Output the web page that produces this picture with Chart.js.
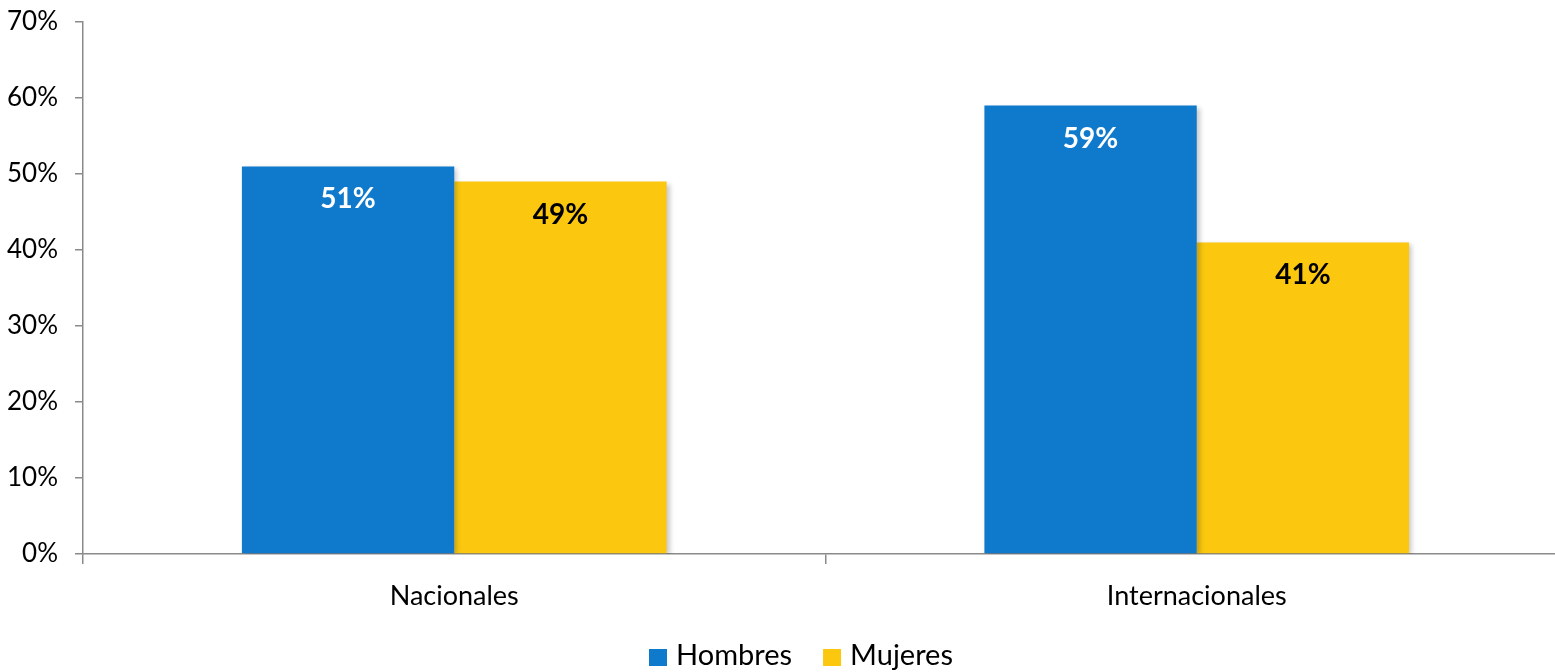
<!DOCTYPE html>
<html>
<head>
<meta charset="utf-8">
<script src="https://cdn.jsdelivr.net/npm/chart.js@4/dist/chart.umd.min.js"></script>
<style>
  html, body { margin: 0; padding: 0; background: #fff; overflow: hidden; }
  #wrap { width: 1555px; height: 672px; overflow: hidden; }
</style>
</head>
<body>
<div id="wrap"><canvas id="chart" width="1570" height="672"></canvas></div>
<script>
// ----------------------------
// Daten
// ----------------------------
const categories = ['Nacionales', 'Internacionales'];
const hombres = [51, 59];
const mujeres = [49, 41];
const yTicks = [0, 10, 20, 30, 40, 50, 60, 70];

const AXIS = '#8a8a8a';
const FONT = 'Lato, "Open Sans", sans-serif';

// Schatten hinter den Balken
const shadowPlugin = {
  id: 'barShadow',
  beforeDatasetsDraw(chart) {
    const ctx = chart.ctx;
    ctx.save();
    ctx.shadowColor = 'rgba(0,0,0,0.22)';
    ctx.shadowBlur = 5;
    ctx.shadowOffsetX = 3;
    ctx.shadowOffsetY = 2;
  },
  afterDatasetsDraw(chart) {
    chart.ctx.restore();
  }
};

// Werte in den Balken
const labelPlugin = {
  id: 'barLabels',
  afterDatasetsDraw(chart) {
    const ctx = chart.ctx;
    ctx.save();
    ctx.font = 'bold 28px ' + FONT;
    ctx.textAlign = 'center';
    ctx.textBaseline = 'middle';
    chart.data.datasets.forEach((ds, i) => {
      const meta = chart.getDatasetMeta(i);
      meta.data.forEach((bar, j) => {
        ctx.fillStyle = ds.labelColor;
        ctx.fillText(ds.data[j] + '%', bar.x, bar.y + 33);
      });
    });
    ctx.restore();
  }
};

// Legende unten (eigene Zeichnung)
const legendPlugin = {
  id: 'bottomLegend',
  afterDraw(chart) {
    const ctx = chart.ctx;
    ctx.save();
    ctx.font = '29px ' + FONT;
    ctx.textBaseline = 'middle';
    ctx.textAlign = 'left';
    let x = 649;
    const y = 656;
    chart.data.datasets.forEach(ds => {
      ctx.fillStyle = ds.backgroundColor;
      ctx.fillRect(x, y - 7, 18, 17);
      ctx.fillStyle = '#000';
      ctx.fillText(ds.label, x + 27, y);
      x += 27 + ctx.measureText(ds.label).width + 31;
    });
    ctx.restore();
  }
};

new Chart(document.getElementById('chart'), {
  type: 'bar',
  data: {
    labels: categories,
    datasets: [
      { label: 'Hombres', data: hombres, backgroundColor: '#0f79cc', labelColor: '#ffffff' },
      { label: 'Mujeres', data: mujeres, backgroundColor: '#fbc80f', labelColor: '#000000' }
    ]
  },
  options: {
    responsive: false,
    animation: false,
    layout: { padding: { top: 22, right: 2, left: 0, bottom: 0 } },
    datasets: { bar: { barPercentage: 1, categoryPercentage: 0.572 } },
    plugins: {
      legend: { display: false },
      tooltip: { enabled: false }
    },
    scales: {
      x: {
        grid: { drawOnChartArea: false, drawTicks: true, tickLength: 10, color: AXIS, lineWidth: 1.5 },
        border: { color: AXIS, width: 1.5 },
        ticks: { color: '#000', font: { family: FONT, size: 27 }, padding: 16 },
        afterFit(scale) { scale.height = 118; scale.paddingLeft = 0; scale.paddingRight = 0; }
      },
      y: {
        min: 0, max: 70,
        afterBuildTicks(scale) { scale.ticks = yTicks.map(v => ({ value: v })); },
        grid: { drawOnChartArea: false, drawTicks: true, tickLength: 8, color: AXIS, lineWidth: 1.5 },
        border: { color: AXIS, width: 1.5 },
        ticks: { color: '#000', font: { family: FONT, size: 26 }, padding: 17, callback: v => v + '%' },
        afterFit(scale) { scale.width = 83; scale.paddingTop = 0; scale.paddingBottom = 0; }
      }
    }
  },
  plugins: [shadowPlugin, labelPlugin, legendPlugin]
});
</script>
</body>
</html>
